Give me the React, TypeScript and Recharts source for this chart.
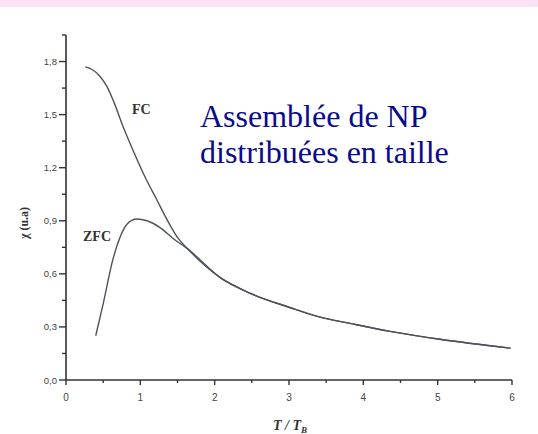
import { LineChart, Line, XAxis, YAxis } from "recharts";

// FC branch (before it joins ZFC)
const fcT = [0.26, 0.35, 0.45, 0.55, 0.65, 0.77, 0.9, 1.06, 1.22, 1.4, 1.51];
const fcChi = [1.77, 1.755, 1.72, 1.66, 1.565, 1.43, 1.3, 1.15, 1.02, 0.875, 0.8];

// ZFC branch
const zfcT = [0.4, 0.5, 0.63, 0.73, 0.82, 0.95, 1.09, 1.27, 1.44];
const zfcChi = [0.25, 0.43, 0.68, 0.81, 0.88, 0.91, 0.9, 0.86, 0.8];

// common tail, both curves merged
const tailT = [1.64, 2.07, 2.48, 3.01, 3.42, 3.82, 4.36, 5.03, 5.98];
const tailChi = [0.74, 0.58, 0.49, 0.41, 0.355, 0.32, 0.275, 0.23, 0.18];

const xTicks = [0, 0.5, 1, 1.5, 2, 2.5, 3, 3.5, 4, 4.5, 5, 5.5, 6];
const yTicks = [0, 0.15, 0.3, 0.45, 0.6, 0.75, 0.9, 1.05, 1.2, 1.35, 1.5, 1.65, 1.8, 1.95];

const toPoints = (ts: number[], vs: number[]) => ts.map((t, i) => ({ t, chi: vs[i] }));
const fcData = [...toPoints(fcT, fcChi), ...toPoints(tailT, tailChi)];
const zfcData = [...toPoints(zfcT, zfcChi), ...toPoints(tailT, tailChi)];

const ink = "#333";
const curve = "#4d525c";

function XTick({ x, y, payload }: any) {
  const major = Number.isInteger(payload.value);
  return (
    <g>
      <line x1={x} y1={y} x2={x} y2={y + (major ? 5 : 3)} stroke={ink} strokeWidth={1.4} />
      {major && (
        <text x={x} y={y + 21} textAnchor="middle" fontSize={10} fontFamily="Arial, sans-serif" fill="#444">
          {payload.value}
        </text>
      )}
    </g>
  );
}

function YTick({ x, y, payload, index }: any) {
  const major = index % 2 === 0;
  return (
    <g>
      <line x1={x - (major ? 7 : 4)} y1={y} x2={x} y2={y} stroke={ink} strokeWidth={1.4} />
      {major && (
        <text x={x - 9} y={y + 3.5} textAnchor="end" fontSize={9.5} fontFamily="Arial, sans-serif" fill="#444">
          {payload.value.toFixed(1).replace(".", ",")}
        </text>
      )}
    </g>
  );
}

export default function App() {
  return (
    <div style={{ position: "absolute", left: 0, top: 0, width: 538, height: 434, background: "#fff", overflow: "hidden" }}>
      <div style={{ position: "absolute", left: 0, top: 0, width: 538, height: 7, background: "#fbe3f4" }} />
      <LineChart width={538} height={434} margin={{ top: 35, right: 26, bottom: 0, left: 26 }}>
        <XAxis
          dataKey="t"
          type="number"
          domain={[0, 6]}
          ticks={xTicks}
          height={54}
          tickSize={0}
          tickMargin={0}
          tick={<XTick />}
          tickLine={false}
          axisLine={{ stroke: ink, strokeWidth: 1.6 }}
          allowDuplicatedCategory={false}
          label={{
            content: () => (
              <text x={290} y={430} textAnchor="middle" fontFamily="'Liberation Serif', serif" fontStyle="italic" fontWeight="bold" fontSize={14} fill="#333">
                T / T
                <tspan fontSize={9} dy={3}>B</tspan>
              </text>
            ),
          }}
        />
        <YAxis
          type="number"
          domain={[0, 1.95]}
          ticks={yTicks}
          width={40}
          tickSize={0}
          tickMargin={0}
          tick={<YTick />}
          tickLine={false}
          interval={0}
          axisLine={{ stroke: ink, strokeWidth: 1.6 }}
          label={{
            content: () => (
              <text x={28} y={223} transform="rotate(-90 28 223)" textAnchor="middle" fontFamily="'Liberation Serif', serif" fontWeight="bold" fontSize={12} fill="#333">
                χ (u.a)
              </text>
            ),
          }}
        />
        <Line data={fcData} dataKey="chi" type="monotone" dot={false} stroke={curve} strokeWidth={1.4} isAnimationActive={false} />
        <Line data={zfcData} dataKey="chi" type="monotone" dot={false} stroke={curve} strokeWidth={1.4} isAnimationActive={false} />
      </LineChart>
      <div style={{ position: "absolute", left: 132, top: 102, fontFamily: "'Liberation Serif', serif", fontWeight: "bold", fontSize: 14, color: "#333" }}>FC</div>
      <div style={{ position: "absolute", left: 83, top: 229, fontFamily: "'Liberation Serif', serif", fontWeight: "bold", fontSize: 14, color: "#333" }}>ZFC</div>
      <div style={{ position: "absolute", left: 200, top: 98, fontFamily: "'Liberation Serif', serif", fontSize: 32, lineHeight: "36px", color: "#0a0a8c" }}>
        Assemblée de NP
        <br />
        distribuées en taille
      </div>
    </div>
  );
}
